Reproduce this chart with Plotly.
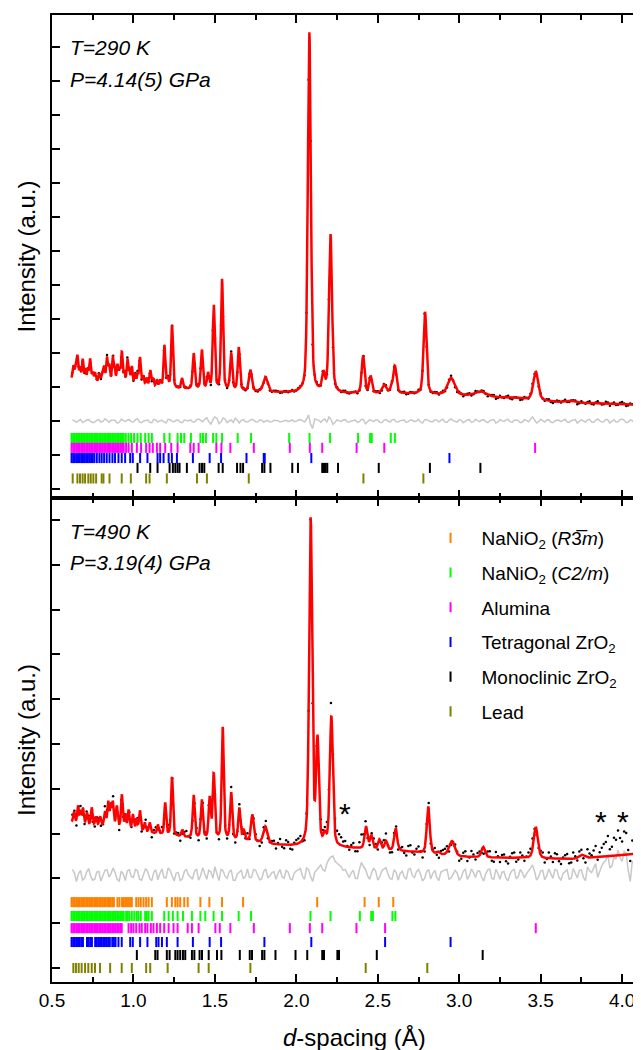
import numpy as np
import plotly.graph_objects as go

# ---------------- data ----------------
# --- top panel (T=290 K) ---
top_bg_d = [0.60, 0.70, 0.80, 0.90, 1.00, 1.20, 1.40, 1.60, 1.80, 2.00, 2.30, 2.70, 3.00, 3.30, 3.60, 4.15]
top_bg_y = [3.22, 3.16, 3.10, 3.05, 3.00, 2.95, 2.92, 2.88, 2.85, 2.82, 2.80, 2.80, 2.75, 2.68, 2.56, 2.47]
top_pk_d = [0.632, 0.645, 0.656, 0.672, 0.689, 0.705, 0.720, 0.734, 0.750, 0.765, 0.790, 0.810, 0.820,
            0.837, 0.851, 0.873, 0.885, 0.902, 0.915, 0.929, 0.945, 0.963, 0.975, 0.990, 1.010, 1.025,
            1.040, 1.060, 1.080, 1.103, 1.120, 1.144, 1.165, 1.190, 1.210, 1.237, 1.298, 1.370, 1.420,
            1.458, 1.493, 1.544, 1.600, 1.647, 1.718, 1.810, 2.080, 2.166, 2.210, 2.410, 2.456, 2.540,
            2.585, 2.605, 2.790, 2.950, 3.130, 3.470, 3.680]
top_pk_h = [0.40, 0.30, 0.70, 0.35, 0.60, 0.30, 0.35, 0.65, 0.25, 0.25, 0.25, 0.25, 0.40,
            0.75, 0.50, 0.80, 0.40, 0.55, 0.40, 0.95, 0.35, 0.75, 0.35, 0.55, 0.35, 0.30,
            0.85, 0.30, 0.25, 0.50, 0.25, 0.22, 0.20, 1.25, 0.25, 1.85, 0.30, 1.05, 1.15,
            0.45, 2.50, 3.25, 1.08, 1.25, 0.62, 0.43, 10.60, 0.50, 4.65, 1.10, 0.50, 0.25,
            0.15, 0.80, 2.42, 0.50, 0.15, 0.85, 0.05]
top_pk_w = [0.012, 0.010, 0.012, 0.010, 0.012, 0.010, 0.010, 0.012, 0.010, 0.012, 0.012, 0.015, 0.010,
            0.012, 0.012, 0.012, 0.010, 0.012, 0.010, 0.012, 0.010, 0.012, 0.010, 0.012, 0.012, 0.010,
            0.013, 0.012, 0.012, 0.013, 0.012, 0.013, 0.012, 0.013, 0.012, 0.014, 0.014, 0.015, 0.015,
            0.015, 0.015, 0.015, 0.016, 0.016, 0.020, 0.030, 0.022, 0.020, 0.022, 0.020, 0.020, 0.030,
            0.020, 0.022, 0.022, 0.050, 0.080, 0.035, 0.050]
# observed - calculated, on the grid 0.625, 0.650, ... 4.100
top_resid = [0.03, -0.04, 0.05, -0.02, 0.04, -0.05, 0.02, -0.03, 0.06, -0.04,
             0.03, -0.06, 0.05, -0.02, 0.04, -0.03, 0.06, -0.05, 0.02, -0.04,
             0.05, -0.03, 0.02, -0.06, 0.04, -0.02, 0.03, -0.05, 0.02, 0.04,
             -0.03, 0.06, -0.02, 0.10, -0.09, 0.12, -0.08, 0.09, -0.05, 0.03,
             0.08, -0.06, 0.04, -0.03, 0.05, -0.02, 0.03, -0.04, 0.02, -0.02,
             0.02, -0.03, 0.01, -0.02, 0.03, -0.01, 0.04, -0.03, 0.18, -0.22,
             0.05, -0.04, 0.06, 0.12, -0.10, 0.03, -0.02, 0.04, -0.03, 0.02,
             -0.04, 0.05, -0.08, 0.04, -0.02, 0.03, -0.05, 0.04, -0.03, 0.05,
             -0.03, 0.02, -0.04, 0.03, -0.02, 0.05, -0.06, 0.04, -0.02, 0.03,
             -0.03, 0.05, -0.04, 0.06, -0.02, 0.04, -0.05, 0.03, -0.04, 0.05,
             -0.02, 0.04, -0.05, 0.03, -0.06, 0.04, -0.02, 0.05, -0.04, 0.03,
             -0.05, 0.04, -0.02, 0.12, -0.06, 0.05, -0.03, 0.04, -0.05, 0.03,
             -0.02, 0.05, -0.04, 0.03, -0.06, 0.04, -0.03, 0.05, -0.04, 0.06,
             -0.03, 0.05, -0.06, 0.04, -0.02, 0.06, -0.05, 0.03, -0.07, -0.10]
# observed - calculated, on the grid 0.6375, 0.6625, ... 4.1125
top_resid2 = [0.01, 0.02, -0.04, 0.03, -0.01, -0.03, 0.04, -0.01, 0.03, 0.02,
              0.02, -0.04, 0.01, 0.03, -0.02, 0.04, -0.03, 0.00, 0.03, -0.05,
              0.03, 0.01, -0.03, 0.05, -0.01, 0.02, -0.04, 0.03, 0.00, -0.02,
              0.04, 0.02, 0.05, -0.02, 0.03, 0.08, -0.03, 0.06, 0.00, -0.04,
              0.03, 0.02, -0.02, 0.01, 0.03, -0.03, 0.02, 0.00, -0.03, 0.02,
              0.01, -0.02, 0.02, 0.00, -0.02, 0.03, 0.01, 0.05, -0.10, 0.06,
              0.02, 0.03, -0.04, 0.05, -0.03, 0.01, 0.03, -0.02, 0.00, 0.03,
              -0.02, 0.04, -0.03, 0.01, 0.03, -0.04, 0.02, 0.00, 0.03, -0.02,
              0.01, 0.03, -0.02, 0.02, 0.00, -0.03, 0.04, 0.01, -0.02, 0.03,
              0.02, -0.03, 0.03, 0.01, -0.03, 0.02, 0.00, 0.04, -0.02, 0.01,
              0.03, -0.02, 0.01, 0.04, -0.03, 0.00, 0.03, -0.02, 0.02, 0.01,
              -0.03, 0.02, 0.05, 0.03, -0.02, 0.01, 0.03, -0.03, 0.00, 0.02,
              0.02, -0.03, 0.01, 0.04, -0.02, 0.00, 0.03, -0.03, 0.02, 0.01,
              -0.02, 0.03, 0.00, -0.03, 0.04, 0.02, -0.03, 0.01, -0.05, -0.06]

# --- bottom panel (T=490 K) ---
bot_bg_d = [0.60, 0.76, 0.85, 1.00, 1.12, 1.25, 1.35, 1.50, 1.70, 1.85, 2.00, 2.30, 2.70, 3.00, 3.40, 3.70, 4.15]
bot_bg_y = [3.26, 3.16, 3.18, 3.07, 3.00, 2.94, 2.90, 2.86, 2.82, 2.75, 2.71, 2.68, 2.59, 2.48, 2.45, 2.43, 2.57]
bot_pk_d = [0.635, 0.660, 0.675, 0.690, 0.715, 0.744, 0.770, 0.795, 0.825, 0.845, 0.860, 0.873, 0.898,
            0.929, 0.950, 0.970, 0.997, 1.020, 1.040, 1.070, 1.100, 1.150, 1.195, 1.237, 1.300, 1.370,
            1.420, 1.468, 1.493, 1.548, 1.600, 1.650, 1.677, 1.730, 1.810, 2.088, 2.130, 2.175, 2.215,
            2.427, 2.460, 2.510, 2.550, 2.610, 2.810, 2.870, 2.955, 3.147, 3.470, 3.750]
bot_pk_h = [0.25, 0.38, 0.25, 0.35, 0.25, 0.40, 0.20, 0.20, 0.30, 0.52, 0.42, 0.52, 0.45,
            0.72, 0.30, 0.42, 0.32, 0.25, 0.45, 0.20, 0.22, 0.20, 0.70, 1.30, 0.15, 0.95,
            0.85, 0.90, 1.45, 2.50, 1.05, 0.72, 0.22, 0.60, 0.38, 7.30, 2.30, 0.20, 2.90,
            0.50, 0.30, 0.22, 0.20, 0.50, 1.05, 0.05, 0.33, 0.23, 0.70, 0.08]
bot_pk_w = [0.012, 0.012, 0.010, 0.012, 0.012, 0.012, 0.012, 0.012, 0.012, 0.012, 0.010, 0.012, 0.012,
            0.012, 0.010, 0.012, 0.012, 0.012, 0.013, 0.012, 0.013, 0.013, 0.013, 0.014, 0.014, 0.015,
            0.015, 0.015, 0.015, 0.015, 0.016, 0.016, 0.016, 0.020, 0.030, 0.022, 0.020, 0.020, 0.022,
            0.020, 0.020, 0.020, 0.020, 0.022, 0.022, 0.020, 0.040, 0.025, 0.030, 0.040]
bot_resid = [0.12, -0.15, 0.10, -0.08, 0.14, -0.12, 0.06, -0.14, 0.10, -0.05,
             0.15, -0.10, 0.08, -0.13, 0.11, -0.06, 0.09, -0.12, 0.14, -0.08,
             0.06, -0.11, 0.13, -0.07, 0.10, -0.14, 0.05, -0.09, 0.12, -0.06,
             0.08, -0.12, 0.16, -0.10, 0.07, 0.18, -0.13, 0.09, -0.08, 0.11,
             -0.12, 0.07, -0.09, 0.13, -0.06, 0.10, -0.11, 0.08, -0.07, 0.05,
             -0.10, 0.12, -0.08, 0.06, -0.11, 0.09, 0.14, -0.10, 0.12, -0.15,
             0.10, 0.22, 0.08, 0.35, 0.42, 0.25, 0.18, 0.12, -0.06, 0.10,
             -0.08, 0.28, 0.12, -0.10, 0.15, -0.12, 0.09, 0.16, -0.08, 0.11,
             -0.12, 0.08, -0.10, 0.14, -0.06, 0.12, -0.14, 0.07, -0.09, 0.10,
             -0.13, 0.09, 0.12, -0.07, 0.10, -0.12, 0.08, -0.10, 0.13, -0.06,
             0.09, -0.14, 0.11, -0.08, 0.12, -0.10, 0.07, -0.13, 0.10, -0.09,
             0.12, -0.07, 0.10, 0.22, -0.12, 0.09, -0.11, 0.13, -0.08, 0.10,
             -0.12, 0.08, -0.10, 0.14, -0.07, 0.11, -0.13, 0.09, 0.15, -0.06,
             0.20, 0.32, 0.15, 0.40, 0.55, 0.30, 0.48, -0.15, 0.25, -0.45]
bot_resid2 = [0.04, 0.02, -0.12, 0.06, -0.03, -0.10, 0.08, -0.02, 0.11, 0.03,
              0.05, -0.14, 0.02, 0.09, -0.04, 0.12, -0.10, 0.01, 0.07, -0.13,
              0.11, 0.03, -0.06, 0.15, -0.02, 0.04, -0.13, 0.08, 0.00, -0.10,
              0.13, -0.02, 0.05, 0.10, -0.08, 0.02, 0.12, -0.03, 0.06, -0.12,
              0.02, 0.10, -0.04, -0.06, 0.12, 0.01, -0.09, 0.13, -0.02, 0.07,
              0.03, -0.05, 0.10, -0.09, 0.04, 0.11, -0.03, 0.15, -0.04, 0.05,
              0.15, 0.12, 0.25, 0.40, 0.30, 0.22, 0.10, 0.02, 0.05, -0.08,
              0.12, 0.18, -0.02, 0.05, 0.08, -0.04, 0.13, 0.02, -0.10, 0.06,
              0.03, -0.05, 0.12, -0.02, 0.07, 0.01, -0.08, 0.12, 0.03, -0.06,
              0.06, 0.11, -0.10, 0.02, 0.04, -0.06, 0.12, -0.02, 0.05, 0.08,
              -0.05, 0.02, 0.13, -0.10, 0.03, 0.06, -0.08, 0.02, 0.12, -0.04,
              0.05, 0.02, 0.15, 0.08, -0.05, 0.10, -0.02, 0.04, 0.12, -0.06,
              0.03, 0.11, -0.08, 0.05, 0.10, -0.06, 0.18, 0.05, 0.25, 0.10,
              0.28, 0.45, 0.20, 0.35, 0.38, 0.52, 0.10, 0.30, -0.25, -0.30]

# --- reflection tick positions (d-spacing, Angstrom) ---
block_a = [0.62, 0.63, 0.64, 0.65, 0.66, 0.67, 0.68, 0.69, 0.70, 0.71, 0.72, 0.73, 0.74, 0.75, 0.76, 0.77,
           0.78, 0.79, 0.80, 0.81, 0.82, 0.83, 0.84, 0.85, 0.86, 0.87, 0.88, 0.89, 0.90, 0.91, 0.92, 0.93, 0.94]
top_green = block_a + [0.953, 0.970, 0.986, 1.004, 1.025, 1.045, 1.072, 1.093, 1.113, 1.189, 1.222, 1.271,
                       1.292, 1.312, 1.353, 1.411, 1.427, 1.445, 1.489, 1.509, 1.544, 1.640, 1.722, 1.956,
                       2.081, 2.207, 2.379, 2.453, 2.463, 2.580, 2.605]
top_magenta = block_a + [0.955, 0.970, 0.990, 1.021, 1.047, 1.078, 1.099, 1.119, 1.144, 1.164, 1.195, 1.232,
                         1.271, 1.349, 1.370, 1.400, 1.509, 1.540, 1.595, 1.739, 1.960, 2.083, 2.159, 2.370,
                         2.540, 3.466]
top_blue = [0.62, 0.63, 0.64, 0.65, 0.66, 0.67, 0.68, 0.69, 0.70, 0.71, 0.72, 0.73, 0.74, 0.75,
            0.760, 0.775, 0.791, 0.805, 0.820, 0.836, 0.853, 0.871, 0.887, 0.908, 0.928, 0.949, 0.980, 0.996,
            1.041, 1.086, 1.148, 1.164, 1.185, 1.216, 1.236, 1.267, 1.365, 1.468, 1.538, 1.694, 1.800,
            1.806, 2.092, 2.940]
top_black = [1.025, 1.103, 1.148, 1.222, 1.242, 1.257, 1.271, 1.283, 1.328, 1.406, 1.421, 1.435, 1.523,
             1.548, 1.636, 1.657, 1.673, 1.790, 1.804, 1.841, 1.975, 2.010, 2.159, 2.170, 2.180, 2.190,
             2.256, 2.506, 2.820, 3.130]
top_olive = [0.627, 0.656, 0.672, 0.688, 0.703, 0.723, 0.738, 0.754, 0.771, 0.805, 0.816, 0.853, 0.928,
             0.984, 1.078, 1.099, 1.205, 1.390, 1.451, 1.708, 2.412, 2.780]

bot_orange = [0.62, 0.63, 0.64, 0.65, 0.66, 0.67, 0.68, 0.69, 0.70, 0.71, 0.72, 0.73, 0.74, 0.75, 0.76,
              0.77, 0.78, 0.79, 0.80, 0.81, 0.82, 0.83, 0.84, 0.85, 0.86, 0.87, 0.88,
              0.902, 0.914, 0.93, 0.94, 0.95, 0.96, 0.97, 0.98, 0.99,
              1.017, 1.031, 1.045, 1.062, 1.078, 1.093, 1.113, 1.205, 1.236, 1.257, 1.271, 1.287, 1.312,
              1.333, 1.411, 1.466, 1.544, 1.673, 2.128, 2.419, 2.506, 2.595]
bot_green = block_a + [0.955, 0.965, 0.975, 0.990, 1.005, 1.020, 1.030, 1.045, 1.072, 1.082, 1.093, 1.113,
                       1.189, 1.216, 1.242, 1.271, 1.304, 1.359, 1.411, 1.441, 1.492, 1.544, 1.646, 1.722,
                       2.087, 2.210, 2.390, 2.460, 2.470, 2.590, 2.608]
bot_magenta = [0.62, 0.63, 0.64, 0.65, 0.66, 0.67, 0.68, 0.69, 0.70, 0.71, 0.72, 0.73, 0.74, 0.75, 0.76,
               0.77, 0.78, 0.79, 0.80, 0.81, 0.82, 0.83, 0.84, 0.85, 0.86, 0.87, 0.88, 0.89, 0.90, 0.91,
               0.92, 0.928, 0.970, 0.986, 1.000, 1.017, 1.037, 1.051, 1.072, 1.086, 1.107, 1.123, 1.144,
               1.164, 1.189, 1.216, 1.246, 1.271, 1.333, 1.359, 1.400, 1.503, 1.530, 1.595, 1.739, 1.960,
               2.083, 2.159, 2.369, 2.545, 3.470]
bot_blue = [0.62, 0.63, 0.64, 0.65, 0.66, 0.67, 0.68, 0.69, 0.715, 0.725, 0.735, 0.745, 0.765, 0.775,
            0.785, 0.795, 0.805, 0.815, 0.825, 0.835, 0.845, 0.855, 0.870, 0.880, 0.890, 0.908, 0.928,
            0.980, 0.996, 1.041, 1.086, 1.140, 1.154, 1.175, 1.205, 1.271, 1.365, 1.468, 1.538, 1.804,
            2.092, 2.545, 2.947]
bot_black = [1.021, 1.134, 1.148, 1.205, 1.222, 1.257, 1.271, 1.287, 1.304, 1.318, 1.359, 1.374, 1.406,
             1.421, 1.462, 1.513, 1.540, 1.653, 1.714, 1.728, 1.790, 1.804, 1.872, 1.995, 2.067, 2.159,
             2.170, 2.252, 2.262, 2.494, 3.144]
bot_olive = [0.631, 0.647, 0.664, 0.682, 0.703, 0.723, 0.744, 0.764, 0.795, 0.857, 0.928, 0.990, 1.078,
             1.103, 1.210, 1.400, 1.462, 1.718, 2.426, 2.804]

phase_names = ["NaNiO<sub>2</sub> (<i>R</i>3\u0305<i>m</i>)",
               "NaNiO<sub>2</sub> (<i>C2/m</i>)",
               "Alumina",
               "Tetragonal ZrO<sub>2</sub>",
               "Monoclinic ZrO<sub>2</sub>",
               "Lead"]
phase_colors = ["#FF8000", "#00FF00", "#FF00FF", "#0000FF", "#000000", "#808000"]

x_ticks = [0.5, 1.0, 1.5, 2.0, 2.5, 3.0, 3.5, 4.0]
x_ticktext = ["0.5", "1.0", "1.5", "2.0", "2.5", "3.0", "3.5", "4.0"]
x_minor = [0.75, 1.25, 1.75, 2.25, 2.75, 3.25, 3.75]

# ---------------- helpers ----------------
FONT = "Liberation Sans, Arial, sans-serif"


def profile(x, bg_d, bg_y, pk_d, pk_h, pk_w):
    y = np.interp(x, bg_d, bg_y)
    for c, h, w in zip(pk_d, pk_h, pk_w):
        t = ((x - c) / (w / 2.0)) ** 2
        y = y + h * (0.4 / (1.0 + t) + 0.6 * np.exp(-np.log(2.0) * t))
    return y


x_fine = np.arange(0.62, 4.116, 0.002)
x_grid1 = 0.625 + 0.025 * np.arange(len(top_resid))
x_grid2 = 0.6375 + 0.025 * np.arange(len(top_resid2))

fig = go.Figure()


def add_panel(xa, ya, bg_d, bg_y, pk_d, pk_h, pk_w, resid1, resid2, diff_level, rows, row_y, legend):
    xo = np.concatenate([x_grid1, x_grid2])
    ro = np.concatenate([np.array(resid1), np.array(resid2)])
    order = np.argsort(xo)
    xo, ro = xo[order], ro[order]
    calc = profile(x_fine, bg_d, bg_y, pk_d, pk_h, pk_w)
    obs = profile(xo, bg_d, bg_y, pk_d, pk_h, pk_w) + ro
    fig.add_trace(go.Scatter(x=xo, y=diff_level + ro, mode="lines",
                             line=dict(color="#C8C8C8", width=1.5), xaxis=xa, yaxis=ya,
                             showlegend=False, hoverinfo="skip"))
    fig.add_trace(go.Scatter(x=xo, y=obs, mode="markers",
                             marker=dict(color="black", size=2.5), xaxis=xa, yaxis=ya,
                             showlegend=False, hoverinfo="skip"))
    fig.add_trace(go.Scatter(x=x_fine, y=calc, mode="lines",
                             line=dict(color="#FF0000", width=2.5), xaxis=xa, yaxis=ya,
                             showlegend=False, hoverinfo="skip"))
    for (idx, pos), yrow in zip(rows, row_y):
        fig.add_trace(go.Scatter(
            x=pos, y=[yrow] * len(pos), mode="markers",
            marker=dict(symbol="line-ns-open", size=7.2, color=phase_colors[idx],
                        line=dict(width=2, color=phase_colors[idx])),
            name=phase_names[idx], legendgroup=f"g{idx}", showlegend=legend,
            xaxis=xa, yaxis=ya, hoverinfo="skip"))


# top panel
add_panel("x2", "y2", top_bg_d, top_bg_y, top_pk_d, top_pk_h, top_pk_w, top_resid, top_resid2, 2.0,
          [(1, top_green), (2, top_magenta), (3, top_blue), (4, top_black), (5, top_olive)],
          [1.50, 1.21, 0.91, 0.62, 0.31], False)
# bottom panel
add_panel("x", "y", bot_bg_d, bot_bg_y, bot_pk_d, bot_pk_h, bot_pk_w, bot_resid, bot_resid2, 2.08,
          [(0, bot_orange), (1, bot_green), (2, bot_magenta), (3, bot_blue), (4, bot_black), (5, bot_olive)],
          [1.47, 1.16, 0.89, 0.58, 0.29, 0.0], True)

xcommon = dict(range=[0.5, 4.116], tickmode="array", tickvals=x_ticks, ticktext=x_ticktext,
               ticks="inside", ticklen=8, tickwidth=2, tickcolor="black",
               showline=True, linewidth=2, linecolor="black", mirror="ticks",
               showgrid=False, zeroline=False, automargin=False,
               tickfont=dict(family=FONT, size=19, color="black"),
               minor=dict(tickmode="array", tickvals=x_minor,
                          ticks="inside", ticklen=5, tickwidth=2, tickcolor="black", showgrid=False))
ycommon = dict(dtick=1, tick0=0, ticks="inside", ticklen=8, tickwidth=2, tickcolor="black",
               showline=True, linewidth=2, linecolor="black", mirror=False,
               showgrid=False, zeroline=False, showticklabels=False, automargin=False,
               title=dict(text="Intensity (a.u.)", font=dict(family=FONT, size=24, color="black"),
                          standoff=8))

SPLIT = 0.5005
# the page body adds an 8 px margin, so the figure is sized/offset to compensate
fig.update_layout(
    width=633, height=1042,
    margin=dict(l=44, r=0, t=7, b=68),
    paper_bgcolor="white", plot_bgcolor="white",
    font=dict(family=FONT, size=19, color="black"),
    xaxis=dict(domain=[0, 1], anchor="y", **xcommon),
    xaxis2=dict(domain=[0, 1], anchor="y2", showticklabels=False, **xcommon),
    yaxis=dict(domain=[0, SPLIT], anchor="x", range=[-0.3125, 10.49], **ycommon),
    yaxis2=dict(domain=[SPLIT, 1], anchor="x2", range=[-0.265, 13.94], **ycommon),
    showlegend=True,
    legend=dict(x=0.624, y=0.4788, xanchor="left", yanchor="top", bgcolor="rgba(0,0,0,0)",
                font=dict(family=FONT, size=19, color="black"), tracegroupgap=7, itemwidth=52),
)

ann_font = dict(family=FONT, size=21, color="black")
annotations = [
    dict(text="<i>T=290 K</i>", x=0.027, y=0.966),
    dict(text="<i>P=4.14(5) GPa</i>", x=0.027, y=0.933),
    dict(text="<i>T=490 K</i>", x=0.027, y=0.4654),
    dict(text="<i>P=3.19(4) GPa</i>", x=0.027, y=0.4334),
]
for a in annotations:
    fig.add_annotation(xref="paper", yref="paper", xanchor="left", yanchor="middle",
                       showarrow=False, font=ann_font, **a)

for sx, sy in [(2.30, 3.45), (3.872, 3.26), (4.004, 3.26)]:
    fig.add_annotation(xref="x", yref="y", x=sx, y=sy, text="*", showarrow=False,
                       font=dict(family=FONT, size=30, color="black"),
                       xanchor="center", yanchor="middle")

fig.add_annotation(xref="x", yref="paper", x=2.36, y=-0.0569, text="<i>d</i>-spacing (Å)",
                   showarrow=False, xanchor="center", yanchor="middle",
                   font=dict(family=FONT, size=24, color="black"))

fig.write_html("out.html")
